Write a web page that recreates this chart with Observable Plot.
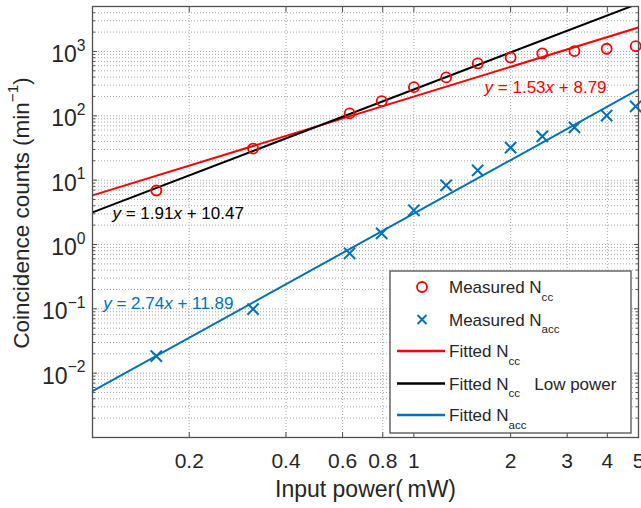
<!DOCTYPE html>
<html><head><meta charset="utf-8">
<script src="https://cdn.jsdelivr.net/npm/d3@7"></script>
<script src="https://cdn.jsdelivr.net/npm/@observablehq/plot@0.6"></script>
<style>
body{margin:0;background:#fff;}
svg text{white-space:pre;}
</style></head><body><div id="chart"></div>
<script>
// ---- data ----
const power = [0.158, 0.316, 0.631, 0.794, 1.0, 1.26, 1.58, 2.0, 2.51, 3.16, 3.98, 4.9];
const nccMeasured = [6.9, 31, 109, 169, 279, 395, 651, 807, 931, 1012, 1102, 1210];
const naccMeasured = [0.0184, 0.099, 0.73, 1.49, 3.4, 8.3, 14.2, 32, 48, 66, 101, 140];

const fitPower = [0.1, 5];
const nccFit = [5.8, 2360];
const nccFitLow = [3.16, 5560];
const naccFit = [0.00526, 257];

const xTicks = [0.2, 0.4, 0.6, 0.8, 1, 2, 3, 4, 5];
const xTickLabels = ["0.2", "0.4", "0.6", "0.8", "1", "2", "3", "4", "5"];
const yTicks = [1e-2, 1e-1, 1, 10, 100, 1000];
const yTickLabels = ["10^{−2}", "10^{−1}", "10^{0}", "10^{1}", "10^{2}", "10^{3}"];
const yDecades = [1e-3, 1e-2, 1e-1, 1, 10, 100, 1000];
const yMultipliers = [2, 3, 4, 5, 6, 7, 8, 9];

const annText = ["*y* = 1.53*x* + 8.79", "*y* = 1.91*x* + 10.47", "*y* = 2.74*x* + 11.89"];
const annX = [1.66, 0.1154, 0.108];
const annY = [275, 3.05, 0.122];
const annColor = ["#ff0000", "#000000", "#0072bd"];

const legendLabels = ["Measured N_{cc}", "Measured N_{acc}", "Fitted N_{cc}", "Fitted N_{cc}   Low power", "Fitted N_{acc}"];
const legendKinds = ["circle", "times", "line", "line", "line"];
const legendColors = ["#ff0000", "#0072bd", "#ff0000", "#000000", "#0072bd"];

const xLabel = "Input power(\u2009mW)";
const yLabel = "Coincidence counts (min^{−1})";

// ---- derived tables ----
const FONT = '"Liberation Sans", Arial, Helvetica, sans-serif';
const meas = power.map((p, i) => ({p, cc: nccMeasured[i], acc: naccMeasured[i]}));
const fits = fitPower.map((p, i) => ({p, cc: nccFit[i], low: nccFitLow[i], acc: naccFit[i]}));
const ann = annText.map((t, i) => ({t, x: annX[i], y: annY[i], c: annColor[i]}));
const xLab = xTicks.map((v, i) => ({v, t: xTickLabels[i]}));
const yMinor = yDecades.flatMap(d => yMultipliers.map(m => d * m)).filter(v => v < 5000);
const yGrid = [...yDecades, ...yMinor];

const frameColor = "#505050";
const chart = Plot.plot({
  width: 641, height: 508,
  marginLeft: 92, marginRight: 3, marginTop: 6, marginBottom: 71,
  style: {fontFamily: FONT, fontSize: "22px", color: "#262626", background: "#fff"},
  x: {type: "log", domain: [0.1, 5]},
  y: {type: "log", domain: [1e-3, 5e3]},
  marks: [
    Plot.gridY(yGrid, {stroke: "#a8a8a8", strokeOpacity: 1, strokeDasharray: "1,2", strokeWidth: 1}),
    Plot.gridX(xTicks, {stroke: "#a8a8a8", strokeOpacity: 1, strokeDasharray: "1,2", strokeWidth: 1}),
    Plot.line(fits, {x: "p", y: "cc", stroke: "#ff0000", strokeWidth: 2, clip: true}),
    Plot.line(fits, {x: "p", y: "low", stroke: "#000000", strokeWidth: 2, clip: true}),
    Plot.line(fits, {x: "p", y: "acc", stroke: "#0072bd", strokeWidth: 2, clip: true}),
    Plot.dot(meas, {x: "p", y: "cc", r: 5, stroke: "#ff0000", strokeWidth: 1.8, fill: "none"}),
    Plot.dot(meas, {x: "p", y: "acc", symbol: "times", r: 5.2, stroke: "#0072bd", strokeWidth: 2}),
    Plot.text(ann, {x: "x", y: "y", text: "t", fill: "c", textAnchor: "start", fontSize: 17}),
    Plot.frame({stroke: frameColor, strokeWidth: 1.3}),
    // inward ticks on all four sides
    Plot.axisY(yDecades, {anchor: "left", tickSize: 5, dx: 5, tickFormat: () => "", label: null, stroke: frameColor}),
    Plot.axisY(yMinor, {anchor: "left", tickSize: 3, dx: 3, tickFormat: () => "", label: null, stroke: frameColor}),
    Plot.axisY(yDecades, {anchor: "right", tickSize: 5, dx: -5, tickFormat: () => "", label: null, stroke: frameColor}),
    Plot.axisY(yMinor, {anchor: "right", tickSize: 3, dx: -3, tickFormat: () => "", label: null, stroke: frameColor}),
    Plot.axisX(xTicks, {anchor: "bottom", tickSize: 5, dy: -5, tickFormat: () => "", label: null, stroke: frameColor}),
    Plot.axisX(xTicks, {anchor: "top", tickSize: 5, dy: 5, tickFormat: () => "", label: null, stroke: frameColor}),
    // tick labels
    Plot.axisY(yTicks, {anchor: "left", tickSize: 0, tickPadding: 7, dy: 3, fontSize: 23,
      tickFormat: d => yTickLabels[yTicks.indexOf(d)], label: null}),
    Plot.text(xLab, {x: "v", text: "t", frameAnchor: "bottom", lineAnchor: "top", textAnchor: "middle", dy: 16, fontSize: 21, fill: "#262626"}),
    // axis titles
    Plot.text([xLabel], {text: d => d, frameAnchor: "bottom", textAnchor: "middle", dy: 59, fontSize: 23, fill: "#262626"}),
    Plot.text([yLabel], {text: d => d, frameAnchor: "left", textAnchor: "middle", rotate: -90, dx: -71, dy: -9, fontSize: 22.5, fill: "#262626"})
  ]
});
document.getElementById("chart").appendChild(chart);

// ---- legend ----
const svg = d3.select(chart);
const lg = svg.append("g").attr("font-family", FONT).attr("font-size", 17).attr("fill", "#262626").attr("text-anchor", "start");
lg.append("rect").attr("x", 390).attr("y", 271).attr("width", 241).attr("height", 162)
  .attr("fill", "#fff").attr("stroke", frameColor).attr("stroke-width", 1.3);
const rowY = [287, 319.5, 351, 383.5, 415];
legendLabels.forEach((lab, i) => {
  const y = rowY[i], c = legendColors[i];
  if (legendKinds[i] === "circle") {
    lg.append("circle").attr("cx", 422).attr("cy", y).attr("r", 5).attr("fill", "none").attr("stroke", c).attr("stroke-width", 1.8);
  } else if (legendKinds[i] === "times") {
    lg.append("path").attr("d", `M${417.5},${y - 4.5}L${426.5},${y + 4.5}M${417.5},${y + 4.5}L${426.5},${y - 4.5}`).attr("stroke", c).attr("stroke-width", 2);
  } else {
    lg.append("line").attr("x1", 397).attr("x2", 445).attr("y1", y).attr("y2", y).attr("stroke", c).attr("stroke-width", 2.6);
  }
  lg.append("text").attr("x", 449).attr("y", y + 6).attr("text-anchor", "start").text(lab);
});

// ---- rich text: ^{sup}, _{sub}, *italic* ----
function richify(el) {
  const s = el.textContent;
  if (!/(\^\{|_\{|\*)/.test(s)) return;
  const fs = parseFloat(getComputedStyle(el).fontSize) || 17;
  const parts = s.split(/(\^\{[^}]*\}|_\{[^}]*\}|\*[^*]*\*)/g).filter(p => p !== "");
  el.textContent = "";
  let shift = 0;
  for (const p of parts) {
    const t = document.createElementNS("http://www.w3.org/2000/svg", "tspan");
    let target = 0, content = p;
    if (p.startsWith("^{")) { content = p.slice(2, -1); target = -0.48 * fs; t.setAttribute("font-size", (0.68 * fs).toFixed(2)); }
    else if (p.startsWith("_{")) { content = p.slice(2, -1); target = 0.45 * fs; t.setAttribute("font-size", (0.68 * fs).toFixed(2)); }
    else if (p.startsWith("*")) { content = p.slice(1, -1); t.setAttribute("font-style", "italic"); }
    const d = target - shift;
    if (d !== 0) t.setAttribute("dy", d.toFixed(2));
    shift = target;
    t.textContent = content;
    el.appendChild(t);
  }
}
svg.selectAll("text").each(function() { richify(this); });
</script></body></html>
